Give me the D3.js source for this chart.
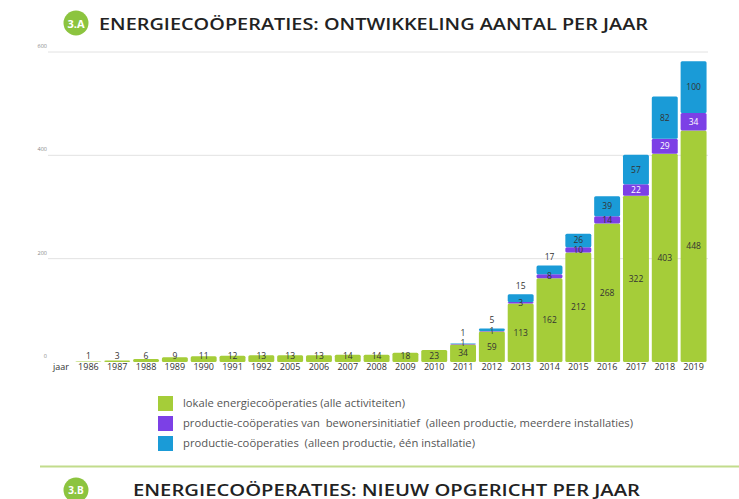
<!DOCTYPE html>
<html><head><meta charset="utf-8">
<script src="https://cdn.jsdelivr.net/npm/d3@7"></script>
<style>body{margin:0;background:#fff}svg{display:block}text{white-space:pre}</style>
</head><body>
<svg id="c" width="739" height="499"></svg>
<script>
const years = ["1986","1987","1988","1989","1990","1991","1992","2005","2006","2007","2008","2009","2010","2011","2012","2013","2014","2015","2016","2017","2018","2019"];
const lokaal =   [1,3,6,9,11,12,13,13,13,14,14,18,23,34,59,113,162,212,268,322,403,448];
const bewoners = [0,0,0,0,0,0,0,0,0,0,0,0,0,1,1,3,8,10,14,22,29,34];
const productie =[0,0,0,0,0,0,0,0,0,0,0,0,0,1,5,15,17,26,39,57,82,100];
const yTicks = [0,200,400,600];
const seriesNames = ["lokale energiecoöperaties (alle activiteiten)","productie-coöperaties van  bewonersinitiatief  (alleen productie, meerdere installaties)","productie-coöperaties  (alleen productie, één installatie)"];
const colors = ["#a5cd39","#7c40e6","#1a9bd7"];

const svg = d3.select("#c");
const F = "'Open Sans', sans-serif";

// title
svg.append("circle").attr("cx",76).attr("cy",23).attr("r",12.5).attr("fill","#8cc43f");
svg.append("text").attr("x",76).attr("y",27.5).attr("text-anchor","middle").attr("fill","#fff")
  .attr("font-family",F).attr("font-weight",700).attr("font-size",11).text("3.A");
svg.append("text").attr("x",99).attr("y",29.5).attr("fill","#222").attr("font-family",F)
  .attr("font-weight",600).attr("font-size",16.5).attr("textLength",549).attr("lengthAdjust","spacingAndGlyphs")
  .text("ENERGIECOÖPERATIES: ONTWIKKELING AANTAL PER JAAR");

const x = d3.scaleBand().domain(years).range([74,708]).paddingInner(0.1).paddingOuter(0.05);
const y = d3.scaleLinear().domain([0,600]).range([362,52]);

// gridlines
const g = svg.append("g");
g.selectAll("line.grid").data(yTicks.filter(d=>d>0)).join("line")
  .attr("x1",48).attr("x2",708).attr("y1",d=>y(d)).attr("y2",d=>y(d))
  .attr("stroke","#e2e2e2").attr("stroke-width",1);
g.selectAll("text.yt").data(yTicks).join("text")
  .attr("x",47).attr("y",d=>y(d)-4).attr("text-anchor","end").attr("fill","#888")
  .attr("font-family",F).attr("font-size",5.5).text(d=>d);

// stack
const rows = years.map((yr,i)=>({year:yr,a:lokaal[i],b:bewoners[i],c:productie[i]}));
const stack = d3.stack().keys(["a","b","c"])(rows);

stack.forEach((layer,li)=>{
  svg.append("g").selectAll("rect").data(layer).join("rect")
    .attr("x",d=>x(d.data.year)).attr("width",x.bandwidth())
    .attr("y",d=>y(d[1])).attr("height",d=>Math.max(0,y(d[0])-y(d[1])))
    .attr("rx",1.5)
    .attr("fill",colors[li]);
});

// labels with simple collision avoidance
const lbl = svg.append("g").attr("font-family",F).attr("font-size",8.5).attr("text-anchor","middle");
rows.forEach((r,i)=>{
  const cx = x(r.year)+x.bandwidth()/2;
  const vals=[r.a,r.b,r.c];
  let base=0, prevY=null;
  const top = y(r.a+r.b+r.c);
  vals.forEach((v,li)=>{
    const y0=y(base), y1=y(base+v);
    base+=v;
    if(v<=0) return;
    let cy=(y0+y1)/2;
    let outside=false;
    if(li===0) cy=Math.min(cy, y(0)-6.5);
    if(li===2 && (y0-y1)<9){cy=top-8;outside=true;}
    if(prevY!==null && cy>prevY-10){cy=prevY-10; outside=true;}
    prevY=cy;
    lbl.append("text").attr("x",cx).attr("y",cy+3)
      .attr("fill",(li===1 && !outside && (y0-y1)>=8)?"#fff":"#333").text(v);
  });
});

// x axis labels
const xa = svg.append("g").attr("font-family",F).attr("font-size",9).attr("fill","#333").attr("text-anchor","middle");
xa.selectAll("text").data(years).join("text").attr("x",d=>x(d)+x.bandwidth()/2).attr("y",370).text(d=>d);
xa.append("text").attr("x",61).attr("y",370).text("jaar");

// legend
const legendW = [222,450,292];
const lg = svg.append("g").attr("font-family",F).attr("font-size",10).attr("fill","#555");
seriesNames.forEach((s,i)=>{
  lg.append("rect").attr("x",158).attr("y",396+i*20).attr("width",15).attr("height",15).attr("fill",colors[i]);
  lg.append("text").attr("x",183).attr("y",407+i*20).attr("textLength",legendW[i]).attr("lengthAdjust","spacingAndGlyphs").text(s);
});

// bottom divider + next section
svg.append("line").attr("x1",40).attr("x2",739).attr("y1",466.5).attr("y2",466.5).attr("stroke","#c2dc8c").attr("stroke-width",2);
svg.append("circle").attr("cx",76).attr("cy",490).attr("r",12.5).attr("fill","#8cc43f");
svg.append("text").attr("x",76).attr("y",494).attr("text-anchor","middle").attr("fill","#fff")
  .attr("font-family",F).attr("font-weight",700).attr("font-size",10).text("3.B");
svg.append("text").attr("x",133).attr("y",495.5).attr("fill","#222").attr("font-family",F)
  .attr("font-weight",600).attr("font-size",16).attr("textLength",507).attr("lengthAdjust","spacingAndGlyphs")
  .text("ENERGIECOÖPERATIES: NIEUW OPGERICHT PER JAAR");
</script>
</body></html>
